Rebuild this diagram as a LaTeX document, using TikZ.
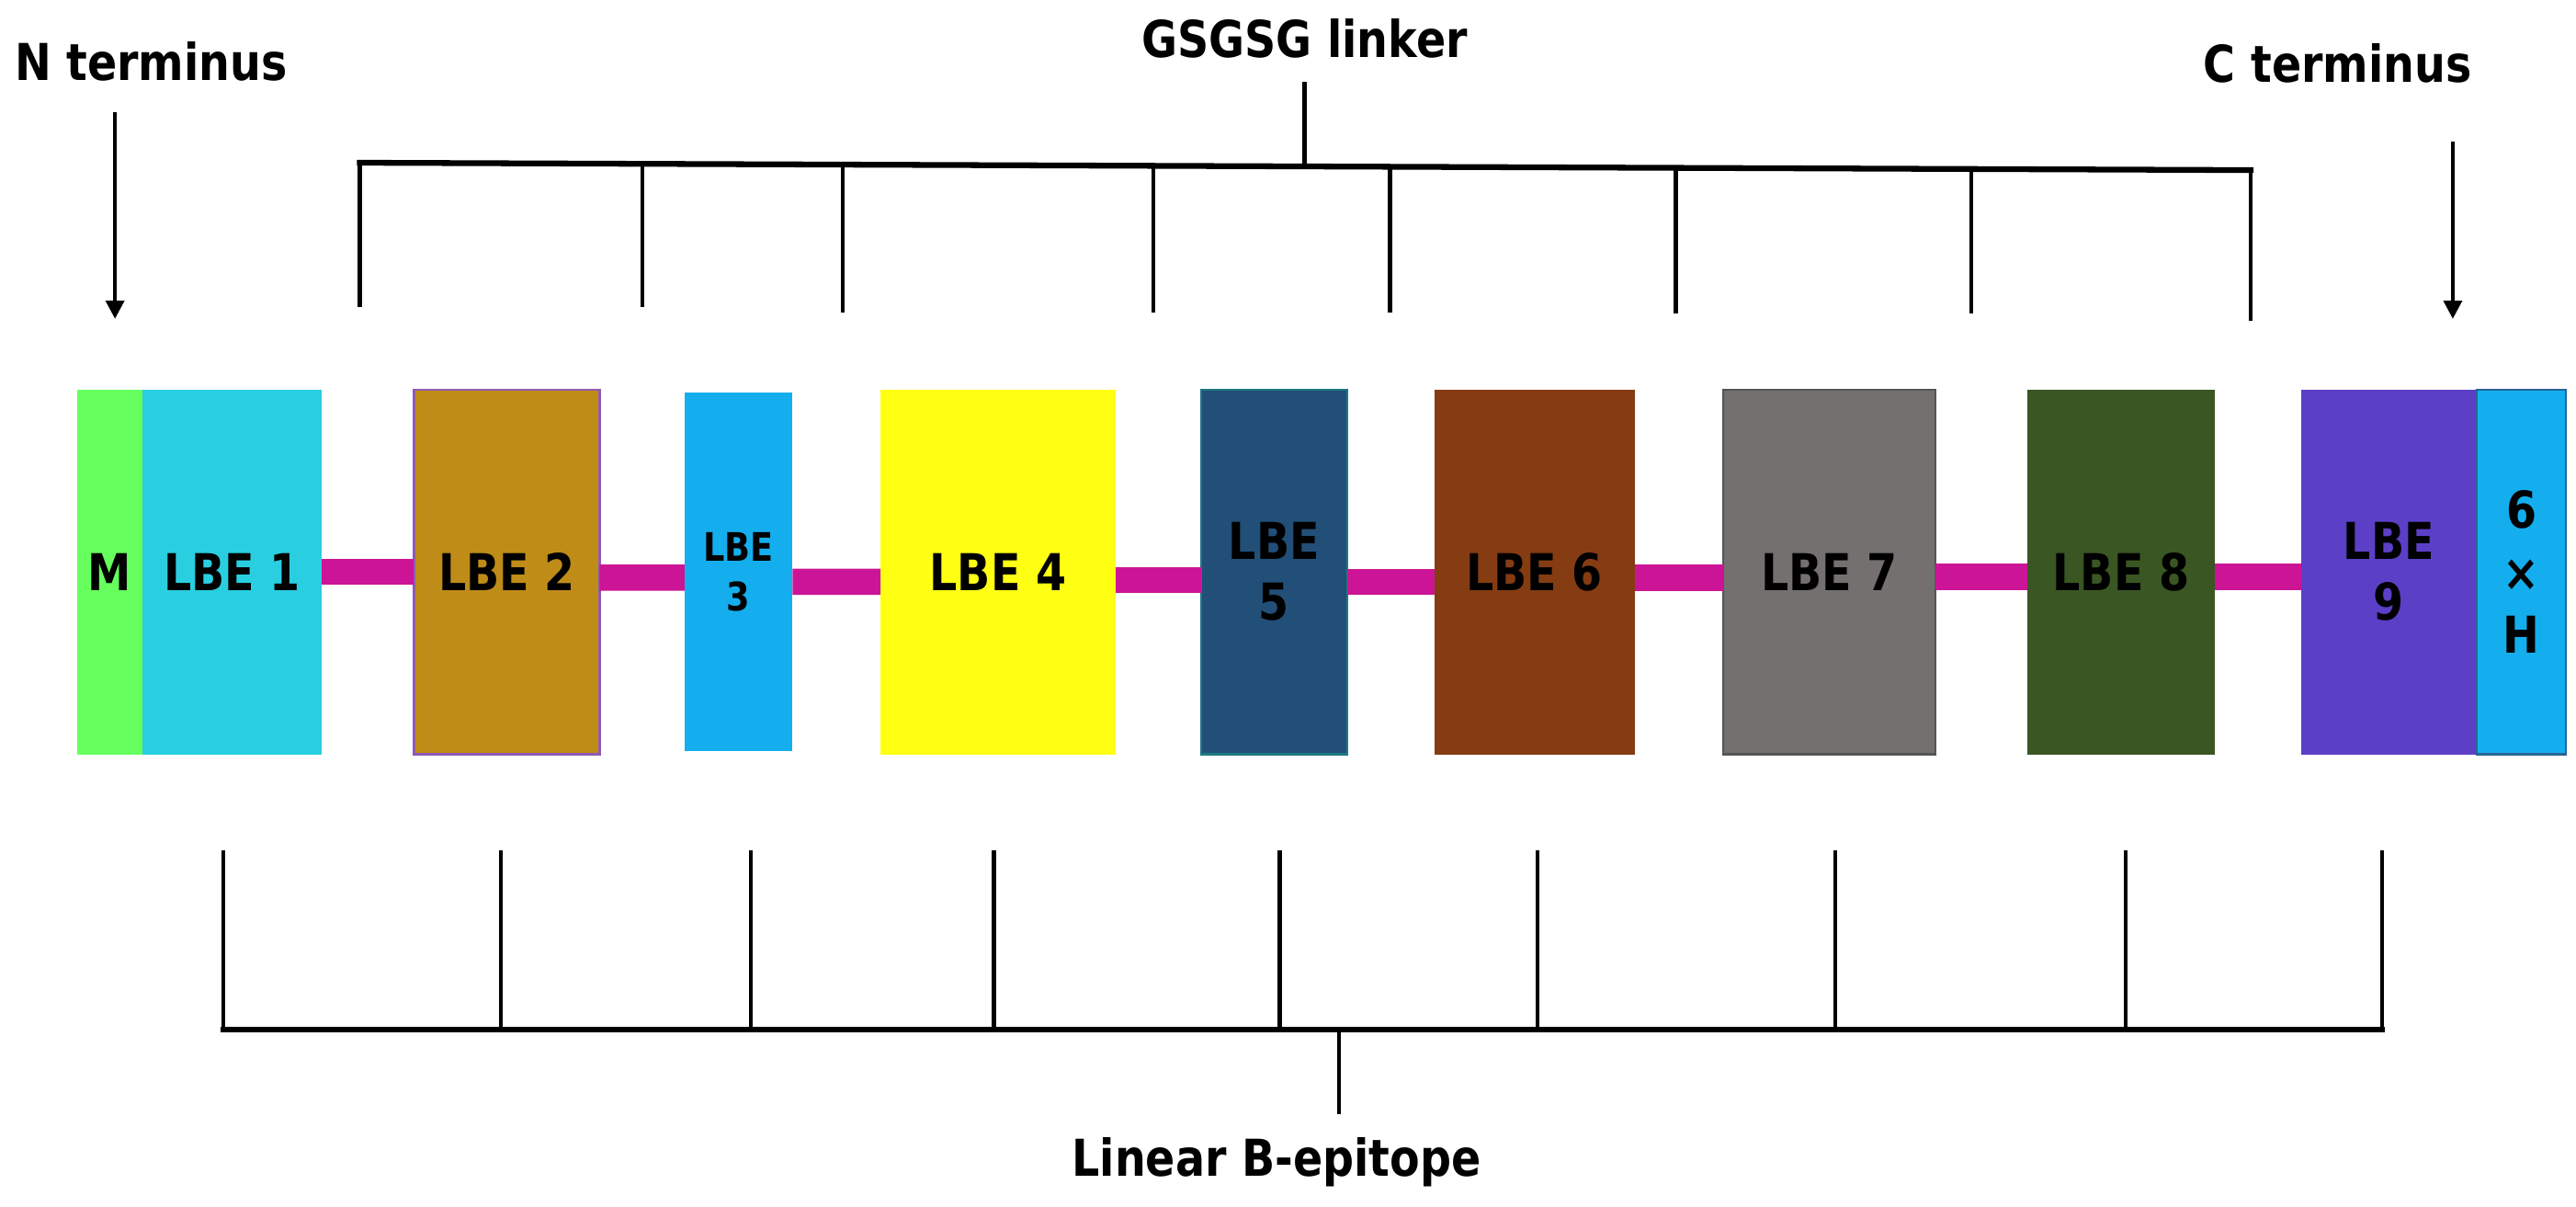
\documentclass[tikz,border=0pt]{standalone}
\usepackage{fontspec}
\setmainfont[FakeStretch=0.86]{DejaVu Sans}
\usetikzlibrary{arrows.meta,calc}
\definecolor{cM}{RGB}{102,255,94}
\definecolor{cA}{RGB}{41,207,224}
\definecolor{cB}{RGB}{191,140,24}
\definecolor{cBb}{RGB}{142,90,180}
\definecolor{cC}{RGB}{20,174,238}
\definecolor{cD}{RGB}{255,255,20}
\definecolor{cE}{RGB}{33,79,120}
\definecolor{cEb}{RGB}{30,120,130}
\definecolor{cF}{RGB}{133,60,18}
\definecolor{cG}{RGB}{117,112,112}
\definecolor{cGb}{RGB}{85,85,85}
\definecolor{cH}{RGB}{58,86,35}
\definecolor{cI}{RGB}{91,63,198}
\definecolor{cJb}{RGB}{40,100,150}
\definecolor{cLink}{RGB}{204,20,150}
\newcommand\lbefont{\fontsize{8.8}{10.2}\selectfont\bfseries}
\newcommand\lbesmallfont{\fontsize{6.8}{8.5}\selectfont\bfseries}
\begin{document}
\begin{tikzpicture}[x=0.1mm,y=-0.1mm,
  seg/.style={rectangle,inner sep=0pt,outer sep=0pt,anchor=north west,align=center,
    font=\lbefont,minimum height=22.2mm,text=black},
  tag/.style={font=\lbefont,inner sep=0pt,anchor=base},
  linker/.style={line width=1.6mm,cLink},
  bar/.style={line width=1pt,black,line cap=rect},
  tick/.style={line width=0.7pt,black},
  arr/.style={line width=0.65pt,black,-{Triangle[length=1.1mm,width=1.1mm]}}]
\useasboundingbox (0,0) rectangle (1568,734);
% boxes
\node[seg,fill=cM,minimum width=3.97mm] (m) at (47,237) {M};
\node[seg,fill=cA,minimum width=10.93mm] (lbe1) at (86.7,237) {LBE 1};
\node[seg,fill=cB,draw=cBb,line width=0.35pt,minimum width=11.3mm] (lbe2) at (252,237) {LBE 2};
\node[seg,fill=cC,minimum width=6.57mm,minimum height=21.8mm,font=\lbesmallfont] (lbe3) at (416.7,239) {LBE\\3};
\node[seg,fill=cD,minimum width=14.3mm] (lbe4) at (536,237) {LBE 4};
\node[seg,fill=cE,draw=cEb,line width=0.35pt,minimum width=8.9mm] (lbe5) at (731,237) {LBE\\[0.1mm]5};
\node[seg,fill=cF,minimum width=12.2mm] (lbe6) at (873,237) {LBE 6};
\node[seg,fill=cG,draw=cGb,line width=0.35pt,minimum width=12.9mm] (lbe7) at (1049,237) {LBE 7};
\node[seg,fill=cH,minimum width=11.4mm] (lbe8) at (1234,237) {LBE 8};
\node[seg,fill=cI,minimum width=10.7mm] (lbe9) at (1400.6,237) {LBE\\[0.1mm]9};
\node[seg,fill=cC,draw=cJb,line width=0.35pt,minimum width=5.44mm] (his) at (1507.6,237) {6\\[0.2mm]×\\[0.2mm]H};
% linkers
\draw[linker] (lbe1.east) -- (lbe2.west);
\draw[linker] ($(lbe2.east)+(0,3.5)$) -- ($(lbe3.west)+(0,3.5)$);
\draw[linker] ($(lbe3.east)+(0,6)$) -- ($(lbe4.west)+(0,6)$);
\draw[linker] ($(lbe4.east)+(0,5)$) -- ($(lbe5.west)+(0,5)$);
\draw[linker] ($(lbe5.east)+(0,6)$) -- ($(lbe6.west)+(0,6)$);
\draw[linker] ($(lbe6.east)+(0,3.5)$) -- ($(lbe7.west)+(0,3.5)$);
\draw[linker] ($(lbe7.east)+(0,3)$) -- ($(lbe8.west)+(0,3)$);
\draw[linker] ($(lbe8.east)+(0,3)$) -- ($(lbe9.west)+(0,3)$);
% labels
\node[tag] (nterm) at (92,49) {N terminus};
\node[tag] (cterm) at (1423,50) {C terminus};
\node[tag] (gsg) at (794,35) {GSGSG linker};
\node[tag] (lbep) at (777,716) {Linear B-epitope};
% terminus arrows
\coordinate (na) at (70,68); \coordinate (nb) at (70,194);
\coordinate (ca) at (1493,86); \coordinate (cb) at (1493,194);
\draw[arr] (na) -- (nb);
\draw[arr] (ca) -- (cb);
% top bracket (GSGSG linker)
\coordinate (gl) at (219,99); \coordinate (gr) at (1370,103.5);
\coordinate (gs1) at (794,101.2); \coordinate (gs2) at (794,50);
\draw[bar] (gl) -- (gr);
\draw[tick] (gs1) -- (gs2);
\foreach \i/\x/\yb/\ye in {1/219/99/187,2/391/99.7/187,3/513/100.1/190,4/702/100.9/190,
  5/846/101.5/190,6/1020/102.1/191,7/1200/102.8/191,8/1370/103.5/195}{
  \coordinate (gt\i) at (\x,\yb);
  \coordinate (ge\i) at (\x,\ye);
  \draw[tick] (gt\i) -- (ge\i);
}
% bottom bracket (Linear B-epitope)
\coordinate (bl) at (136,626.5); \coordinate (br) at (1450,626.5);
\coordinate (bs1) at (815,626.5); \coordinate (bs2) at (815,678);
\draw[bar] (bl) -- (br);
\draw[tick] (bs1) -- (bs2);
\foreach \i/\x in {1/136,2/305,3/457,4/605,5/779,6/936,7/1117,8/1294,9/1450}{
  \coordinate (bt\i) at (\x,517.5);
  \coordinate (bb\i) at (\x,626.5);
  \draw[tick] (bt\i) -- (bb\i);
}
\end{tikzpicture}
\end{document}
